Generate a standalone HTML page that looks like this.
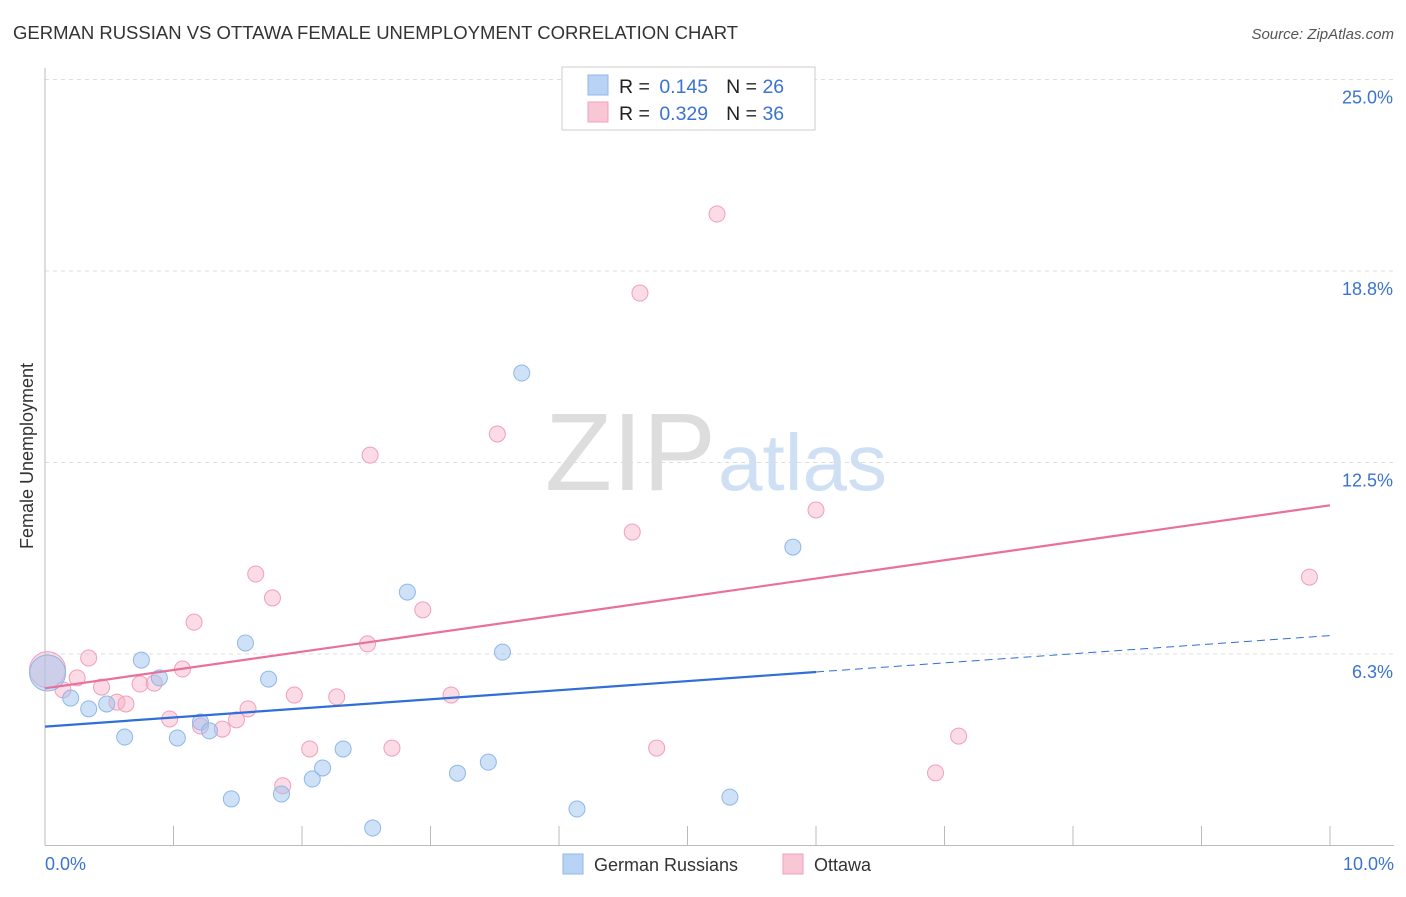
<!DOCTYPE html>
<html><head><meta charset="utf-8"><style>
body{margin:0;background:#fff;font-family:"Liberation Sans",sans-serif;}
svg text{font-family:"Liberation Sans",sans-serif;}
</style></head><body>
<svg id="chart" width="1406" height="892">
<text x="13" y="39" font-size="18.5" fill="#333">GERMAN RUSSIAN VS OTTAWA FEMALE UNEMPLOYMENT CORRELATION CHART</text>
<text x="1394" y="39" font-size="15" fill="#555" font-style="italic" text-anchor="end">Source: ZipAtlas.com</text>
<text x="716" y="490" font-size="110" fill="#ddd" text-anchor="end" font-family="Liberation Serif">ZIP</text>
<text x="718" y="490" font-size="80" fill="#cfe0f5">atlas</text>
<text transform="translate(33,456) rotate(-90)" font-size="18" fill="#333" text-anchor="middle">Female Unemployment</text>
<g id="grid"></g><g id="marks"></g>
<g>
<rect x="562" y="67" width="253" height="63" fill="#fff" stroke="#ccc"/>
<rect x="588" y="75" width="20" height="20" fill="#b8d3f5" stroke="#8fb7e8"/>
<rect x="588" y="102" width="20" height="20" fill="#f9c6d5" stroke="#f0a0b8"/>
<text x="619" y="93" font-size="19.5" fill="#222">R = <tspan fill="#3a73d0" dx="4">0.145</tspan><tspan dx="18">N = </tspan><tspan fill="#3a73d0">26</tspan></text>
<text x="619" y="120" font-size="19.5" fill="#222">R = <tspan fill="#3a73d0" dx="4">0.329</tspan><tspan dx="18">N = </tspan><tspan fill="#3a73d0">36</tspan></text>
</g>
<g>
<rect x="563" y="854" width="20" height="20" fill="#b8d3f5" stroke="#8fb7e8"/>
<text x="594" y="871" font-size="18" fill="#333">German Russians</text>
<rect x="783" y="854" width="20" height="20" fill="#f9c6d5" stroke="#f0a0b8"/>
<text x="814" y="871" font-size="18" fill="#333">Ottawa</text>
</g>
</svg>
<script>
const yTicks=[6.25,12.5,18.75,25];
const yTickLabels=["6.3%","12.5%","18.8%","25.0%"];
const xTickCount=10;
const xLabels=["0.0%","10.0%"];
const blueX=[0.02,0.20,0.34,0.48,0.62,0.75,0.89,1.03,1.21,1.28,1.45,1.56,1.74,1.84,2.08,2.16,2.32,2.55,2.82,3.21,3.45,3.56,3.71,4.14,5.33,5.82];
const blueY=[5.63,4.81,4.46,4.62,3.54,6.05,5.47,3.51,4.03,3.74,1.52,6.61,5.43,1.68,2.17,2.53,3.15,0.57,8.27,2.36,2.72,6.31,15.42,1.19,1.58,9.74];
const pinkX=[0.02,0.14,0.25,0.34,0.44,0.56,0.63,0.74,0.85,0.97,1.07,1.16,1.21,1.38,1.49,1.58,1.64,1.77,1.85,1.94,2.06,2.27,2.51,2.53,2.70,2.94,3.16,3.52,4.57,4.63,4.76,5.23,6.00,6.93,7.11,9.84];
const pinkY=[5.74,5.08,5.47,6.12,5.17,4.68,4.62,5.27,5.30,4.13,5.76,7.29,3.90,3.80,4.10,4.46,8.86,8.08,1.95,4.91,3.15,4.85,6.58,12.74,3.18,7.69,4.91,13.43,10.23,18.03,3.18,20.61,10.95,2.37,3.57,8.76];
const NS="http://www.w3.org/2000/svg";
const X0=45,X1=1330,Y0=845.5,YS=30.64;
const sx=v=>X0+(X1-X0)*v/10, sy=v=>Y0-v*YS;
function mk(t,a,p){const e=document.createElementNS(NS,t);for(const k in a)e.setAttribute(k,a[k]);p.appendChild(e);return e;}
const grid=document.getElementById('grid'),marks=document.getElementById('marks');
yTicks.forEach((v,i)=>{
 const l=mk('line',{x1:X0,x2:1394,y1:sy(v),y2:sy(v),stroke:'#ddd','stroke-dasharray':'4,4'},grid);
 
 
 const t=mk('text',{x:1393,y:sy(v)+24,'font-size':18,fill:'#3a73d0','text-anchor':'end'},grid);
 t.textContent=yTickLabels[i];
 
 
});
const ax=mk('line',{x1:X0,x2:1394,y1:Y0,y2:Y0,stroke:'#bbb'},grid);


const ay=mk('line',{x1:X0,x2:X0,y1:68,y2:Y0,stroke:'#bbb'},grid);


for(let i=1;i<=xTickCount;i++){
 const t=mk('line',{x1:sx(i),x2:sx(i),y1:826,y2:Y0,stroke:'#bbb'},grid);
 
 
}
[[0,'start',45],[10,'end',1394]].forEach((d,i)=>{
 const t=mk('text',{x:d[2],y:870,'font-size':18,fill:'#3a73d0','text-anchor':d[1]},grid);
 t.textContent=xLabels[i];
 
 
});
function reg(xs,ys){const n=xs.length;let mx=0,my=0;for(let i=0;i<n;i++){mx+=xs[i];my+=ys[i];}mx/=n;my/=n;let a=0,b=0;for(let i=0;i<n;i++){a+=(xs[i]-mx)*(ys[i]-my);b+=(xs[i]-mx)**2;}const s=a/b;return [my-s*mx,s];}
function pts(xs,ys,fill,stroke,name){
 xs.forEach((x,i)=>{
  const c=mk('circle',{cx:sx(x),cy:sy(ys[i]),r:i===0?18:8,fill:fill,stroke:stroke,'stroke-width':1},marks);
  
  
 });
}
pts(pinkX,pinkY,'rgba(246,176,198,0.45)','#f0a0b8','ottawa-point');
pts(blueX,blueY,'rgba(160,196,240,0.5)','#8fb7e8','german-russian-point');
const bl=reg(blueX,blueY),pl=reg(pinkX,pinkY);
const bxMax=Math.ceil(Math.max(...blueX));
const b1=mk('line',{x1:sx(0),y1:sy(bl[0]),x2:sx(bxMax),y2:sy(bl[0]+bl[1]*bxMax),stroke:'#2f6fd6','stroke-width':2.2},marks);


const b2=mk('line',{x1:sx(bxMax),y1:sy(bl[0]+bl[1]*bxMax),x2:sx(10),y2:sy(bl[0]+bl[1]*10),stroke:'#2f6fd6','stroke-width':1,'stroke-dasharray':'8,5'},marks);


const p1=mk('line',{x1:sx(0),y1:sy(pl[0]),x2:sx(10),y2:sy(pl[0]+pl[1]*10),stroke:'#e8709a','stroke-width':2.2},marks);


</script>
</body></html>
